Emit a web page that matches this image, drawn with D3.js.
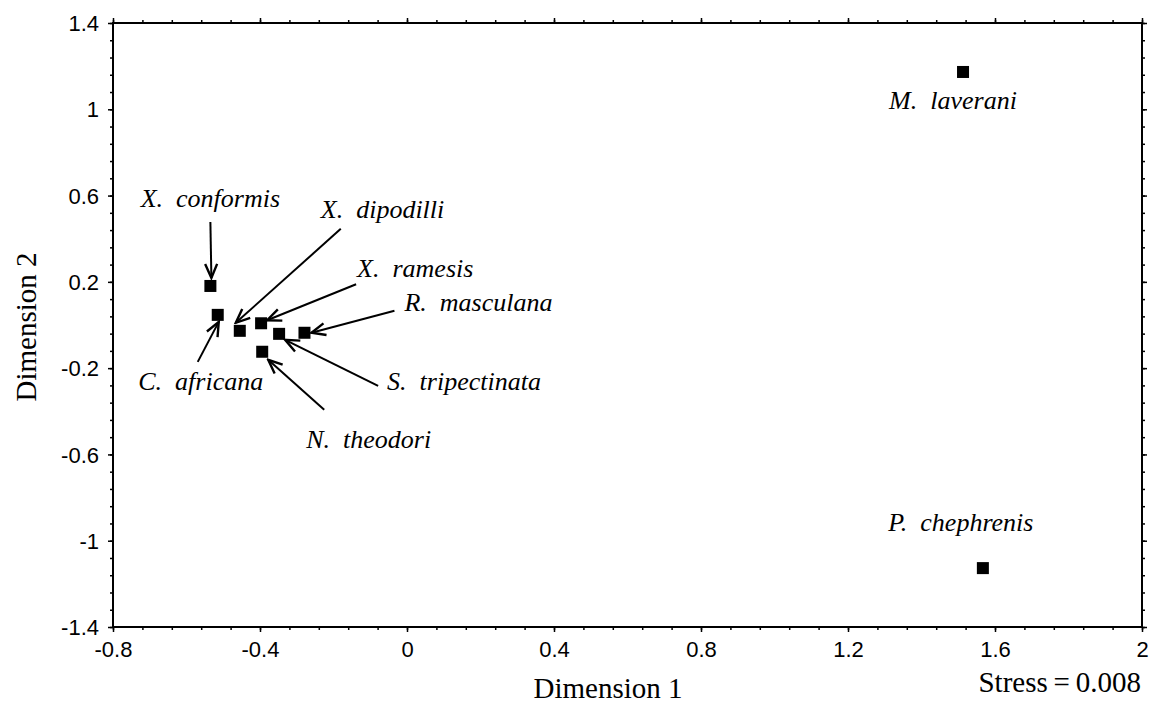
<!DOCTYPE html>
<html>
<head>
<meta charset="utf-8">
<script src="https://cdn.jsdelivr.net/npm/d3@7"></script>
<style>
  body { margin: 0; background: #fff; }
  svg { display: block; }
  .tick text { font-family: "Liberation Sans", Arial, sans-serif; font-size: 22px; fill: #000; }
  .lbl { font-family: "Liberation Serif", "Times New Roman", serif; font-style: italic; font-size: 26px; fill: #000; }
  .ttl { font-family: "Liberation Serif", "Times New Roman", serif; font-size: 29px; fill: #000; }
</style>
</head>
<body>
<svg id="chart" width="1149" height="704"></svg>
<script>
// NMDS ordination, two dimensions

// data
var species = ["X. conformis", "C. africana", "X. dipodilli", "X. ramesis",
               "S. tripectinata", "R. masculana", "N. theodori",
               "M. laverani", "P. chephrenis"];
var dim1 = [-0.535, -0.515, -0.455, -0.397, -0.348, -0.279, -0.394, 1.513, 1.567];
var dim2 = [0.181, 0.047, -0.027, 0.008, -0.041, -0.036, -0.124, 1.173, -1.127];
var xTicks = [-0.8, -0.4, 0, 0.4, 0.8, 1.2, 1.6, 2];
var yTicks = [-1.4, -1, -0.6, -0.2, 0.2, 0.6, 1, 1.4];
var stressText = "Stress\u2009=\u20090.008";

/*
 annotation layout, pixels relative to each point:
 lx,ly = label anchor, anchor = text-anchor,
 a = arrow [x1,y1,x2,y2] or null
*/
var notes = [
  {lx: 0,   ly: -79, anchor: "middle", a: [0, -64, 1, -8]},
  {lx: -17, ly: 75,  anchor: "middle", a: [-20, 47, 1, 7]},
  {lx: 81,  ly: -113, anchor: "start", a: [101, -102, -4, -8]},
  {lx: 96,  ly: -46, anchor: "start",  a: [95, -39, 6, -3]},
  {lx: 108, ly: 56,  anchor: "start",  a: [99, 52, 6, 6]},
  {lx: 100, ly: -22, anchor: "start",  a: [90, -22, 7, 0]},
  {lx: 44,  ly: 96,  anchor: "start",  a: [62, 58, 6, 8]},
  {lx: -10, ly: 37,  anchor: "middle", a: null},
  {lx: -22, ly: -37, anchor: "middle", a: null}
];

var svg = d3.select("#chart");
var mLeft = 113, mRight = 1142, mTop = 23, mBottom = 627;

var x = d3.scaleLinear().domain([-0.8, 2]).range([mLeft, mRight]);
var y = d3.scaleLinear().domain([-1.4, 1.4]).range([mBottom, mTop]);

// minor ticks every 0.08
var xMinor = d3.range(0, 36).map(function(i){ return +(-0.8 + i*0.08).toFixed(2); });
var yMinor = d3.range(0, 36).map(function(i){ return +(-1.4 + i*0.08).toFixed(2); });

function fmt(d){ return String(+d.toFixed(1)); }

// minor ticks, all four sides
svg.append("g").attr("transform", "translate(0," + mBottom + ")")
  .call(d3.axisBottom(x).tickValues(xMinor).tickSize(3).tickFormat(""));
svg.append("g").attr("transform", "translate(0," + mTop + ")")
  .call(d3.axisTop(x).tickValues(xMinor).tickSize(3).tickFormat(""));
svg.append("g").attr("transform", "translate(" + mLeft + ",0)")
  .call(d3.axisLeft(y).tickValues(yMinor).tickSize(3).tickFormat(""));
svg.append("g").attr("transform", "translate(" + mRight + ",0)")
  .call(d3.axisRight(y).tickValues(yMinor).tickSize(3).tickFormat(""));

// major ticks + labels
var xAxis = svg.append("g").attr("transform", "translate(0," + mBottom + ")")
  .call(d3.axisBottom(x).tickValues(xTicks).tickSize(5).tickPadding(6).tickFormat(fmt));
var yAxis = svg.append("g").attr("transform", "translate(" + mLeft + ",0)")
  .call(d3.axisLeft(y).tickValues(yTicks).tickSize(5).tickPadding(9).tickFormat(fmt));
svg.append("g").attr("transform", "translate(0," + mTop + ")")
  .call(d3.axisTop(x).tickValues(xTicks).tickSize(5).tickFormat(""));
svg.append("g").attr("transform", "translate(" + mRight + ",0)")
  .call(d3.axisRight(y).tickValues(yTicks).tickSize(5).tickFormat(""));

svg.selectAll(".domain").remove();
svg.selectAll(".tick line").attr("stroke", "#000").attr("stroke-width", 1.5);
xAxis.selectAll(".tick text").attr("dy", "0.85em");
yAxis.selectAll(".tick text").attr("dy", "0.35em");

// frame
svg.append("rect")
  .attr("x", mLeft).attr("y", mTop)
  .attr("width", mRight - mLeft).attr("height", mBottom - mTop)
  .attr("fill", "none").attr("stroke", "#000").attr("stroke-width", 2);

// arrow head
svg.append("defs").append("marker")
  .attr("id", "head")
  .attr("viewBox", "0 -8 18 16")
  .attr("refX", 16).attr("refY", 0)
  .attr("markerWidth", 18).attr("markerHeight", 16)
  .attr("markerUnits", "userSpaceOnUse")
  .attr("orient", "auto")
  .append("path")
  .attr("d", "M2,-6 L16,0 L2,6")
  .attr("fill", "none").attr("stroke", "#000").attr("stroke-width", 2.4);

var pts = species.map(function(s, i){
  return {name: s, px: x(dim1[i]), py: y(dim2[i]), n: notes[i]};
});

// arrows
svg.selectAll("line.arrow")
  .data(pts.filter(function(p){ return p.n.a; }))
  .enter().append("line")
  .attr("class", "arrow")
  .attr("x1", function(p){ return p.px + p.n.a[0]; })
  .attr("y1", function(p){ return p.py + p.n.a[1]; })
  .attr("x2", function(p){ return p.px + p.n.a[2]; })
  .attr("y2", function(p){ return p.py + p.n.a[3]; })
  .attr("stroke", "#000").attr("stroke-width", 2)
  .attr("marker-end", "url(#head)");

// points
var sz = 12;
svg.selectAll("rect.pt")
  .data(pts)
  .enter().append("rect")
  .attr("class", "pt")
  .attr("x", function(p){ return p.px - sz/2; })
  .attr("y", function(p){ return p.py - sz/2; })
  .attr("width", sz).attr("height", sz)
  .attr("fill", "#000");

// species labels
svg.selectAll("text.lbl")
  .data(pts)
  .enter().append("text")
  .attr("class", "lbl")
  .attr("x", function(p){ return p.px + p.n.lx; })
  .attr("y", function(p){ return p.py + p.n.ly; })
  .attr("text-anchor", function(p){ return p.n.anchor; })
  .attr("xml:space", "preserve")
  .text(function(p){ return p.name.replace(". ", ".  "); });

// titles
svg.append("text").attr("class", "ttl")
  .attr("x", 608).attr("y", 698).attr("text-anchor", "middle")
  .text("Dimension 1");
svg.append("text").attr("class", "ttl")
  .attr("transform", "translate(36,327) rotate(-90)").attr("text-anchor", "middle")
  .text("Dimension 2");
svg.append("text").attr("class", "ttl")
  .attr("x", 1141).attr("y", 692).attr("text-anchor", "end")
  .text(stressText);
</script>
</body>
</html>
